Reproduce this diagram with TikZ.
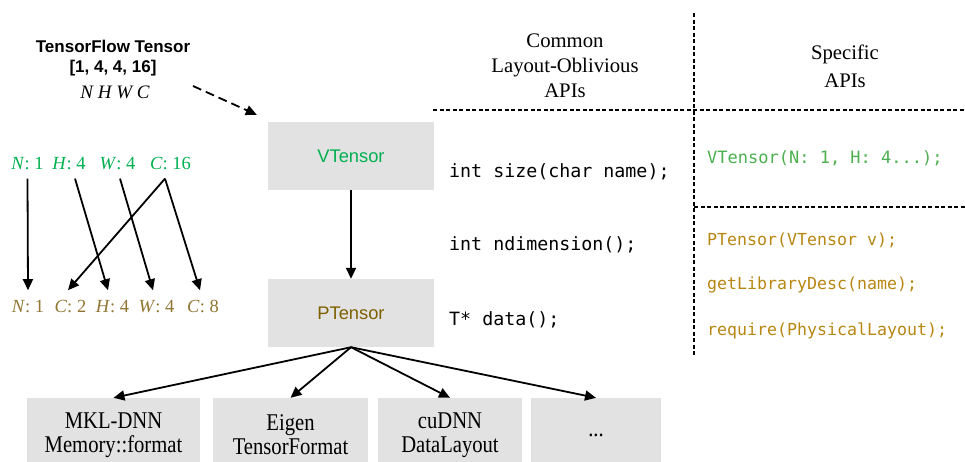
\documentclass[tikz,border=0pt]{standalone}
\usepackage{fontspec}
\setmainfont{Liberation Serif}
\setsansfont{Liberation Sans}
\setmonofont{DejaVu Sans Mono}
\newfontfamily\narrowserif[FakeStretch=0.86]{Liberation Serif}
\usetikzlibrary{arrows.meta}

\definecolor{boxgray}{RGB}{226,226,226}
\definecolor{vgreen}{RGB}{0,176,80}
\definecolor{codegreen}{RGB}{76,175,80}
\definecolor{pbrown}{RGB}{127,96,0}
\definecolor{codebrown}{RGB}{184,134,18}
\definecolor{labelbrown}{RGB}{145,118,50}

\begin{document}
\begin{tikzpicture}[x=1pt,y=-1pt,
  tensorbox/.style={fill=boxgray, minimum width=166pt, minimum height=68pt,
    inner sep=0pt, font=\sffamily\fontsize{18.3}{22}\selectfont},
  libbox/.style={fill=boxgray, minimum height=74pt, inner sep=0pt,
    align=center, font=\narrowserif\fontsize{24}{24}\selectfont},
  flow/.style={-{Triangle[length=11pt,width=10pt]}, line width=1.8pt},
  sepline/.style={dash pattern=on 4pt off 2.5pt, line width=1.4pt},
  commoncode/.style={anchor=west, inner sep=0pt, font=\ttfamily\fontsize{18.3}{22}\selectfont},
  vcode/.style={anchor=west, inner sep=0pt, text=codegreen, font=\ttfamily\fontsize{17}{20}\selectfont},
  pcode/.style={anchor=west, inner sep=0pt, text=codebrown, font=\ttfamily\fontsize{16.6}{20}\selectfont},
  dimtop/.style={anchor=base, inner sep=0pt, text depth=9pt, text=vgreen,
    font=\fontsize{18.5}{22}\selectfont},
  dimbot/.style={anchor=base, inner sep=0pt, text height=22pt, text=labelbrown,
    font=\fontsize{18.5}{22}\selectfont}]

\useasboundingbox (0,0) rectangle (965,461);
\clip (0,0) rectangle (965,461);

% source tensor description
\node[font=\sffamily\bfseries\fontsize{17}{20}\selectfont] (tft) at (113,46) {TensorFlow Tensor};
\node[font=\sffamily\bfseries\fontsize{17}{20}\selectfont] (tfshape) at (113,68) {[1, 4, 4, 16]};
\node[font=\itshape\fontsize{19}{22}\selectfont] (nhwc) at (115,92) {N H W C};
\coordinate (tfout) at (193,86);

% virtual and physical tensors
\node[tensorbox, text=vgreen] (vt) at (351,156) {VTensor};
\node[tensorbox, text=pbrown] (pt) at (351,313) {PTensor};

% library layouts
\node[libbox, minimum width=173pt] (mkl) at (113.5,435) {MKL-DNN\\Memory::format};
\node[libbox, minimum width=155pt] (eig) at (290.5,435) {Eigen\\TensorFormat};
\node[libbox, minimum width=144pt] (cud) at (450,435) {cuDNN\\DataLayout};
\node[libbox, minimum width=130pt] (etc) at (596,435) {...};

% dimension permutation
\node[dimtop] (gN) at (27.5,169.4) {\textit{N}: 1};
\node[dimtop] (gH) at (69,169.4) {\textit{H}: 4};
\node[dimtop] (gW) at (117.5,169.4) {\textit{W}: 4};
\node[dimtop] (gC) at (170.5,169.4) {\textit{C}: 16};

\node[dimbot] (pN) at (28,312.4) {\textit{N}: 1};
\node[dimbot] (pC2) at (70.5,312.4) {\textit{C}: 2};
\node[dimbot] (pH) at (112.5,312.4) {\textit{H}: 4};
\node[dimbot] (pW) at (156.5,312.4) {\textit{W}: 4};
\node[dimbot] (pC8) at (203,312.4) {\textit{C}: 8};

\draw[flow] (gN.south) -- (pN.north);
\draw[flow] ([xshift=6pt]gH.south) -- ([xshift=-4.5pt]pH.north);
\draw[flow] ([xshift=2.5pt]gW.south) -- ([xshift=-3.5pt]pW.north);
\draw[flow] ([xshift=-5.5pt]gC.south) -- ([xshift=-2.5pt]pC2.north);
\draw[flow] ([xshift=-5.5pt]gC.south) -- ([xshift=-3pt]pC8.north);

% API table
\node[align=center, font=\fontsize{20.7}{25}\selectfont] (common) at (565,65.5)
  {Common\\Layout-Oblivious\\APIs};
\node[align=center, font=\fontsize{20.7}{28}\selectfont] (specific) at (845,66)
  {Specific\\APIs};

\draw[sepline] (433,110) -- (965,110);
\draw[sepline] (694,13) -- (694,356);
\draw[sepline] (694,207) -- (965,207);

\node[commoncode] (c1) at (449,172) {int size(char name);};
\node[commoncode] (c2) at (449,245) {int ndimension();};
\node[commoncode] (c3) at (449,320) {T* data();};

\node[vcode] (s1) at (707,158) {VTensor(N: 1, H: 4...);};
\node[pcode] (s2) at (707,240) {PTensor(VTensor v);};
\node[pcode] (s3) at (707,285) {getLibraryDesc(name);};
\node[pcode] (s4) at (707,331) {require(PhysicalLayout);};

% connectors
\draw[flow, dash pattern=on 9pt off 5pt] (tfout) -- ([xshift=-11pt,yshift=7pt]vt.north west);
\draw[flow] (vt.south) -- (pt.north);
\draw[flow] (pt.south) -- (mkl.north);
\draw[flow] (pt.south) -- (eig.north);
\draw[flow] (pt.south) -- (cud.north);
\draw[flow] (pt.south) -- (etc.north);

\end{tikzpicture}
\end{document}
